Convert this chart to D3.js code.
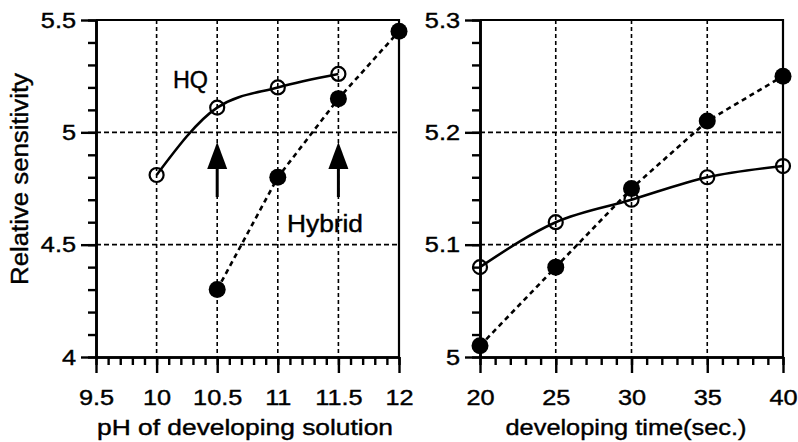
<!DOCTYPE html>
<html>
<head>
<meta charset="utf-8">
<script src="https://cdn.jsdelivr.net/npm/d3@7"></script>
<style>
  body { margin: 0; background: #fff; }
  svg text { font-family: "Liberation Sans", Arial, Helvetica, sans-serif; fill: #000; }
</style>
</head>
<body>
<div id="chart"></div>
<script>
"use strict";

// === DATA ===
// left panel: pH of developing solution
const phTicks = [9.5, 10, 10.5, 11, 11.5, 12];
const phYTicks = [4, 4.5, 5, 5.5];
const phHQ = [10, 10.5, 11, 11.5];
const phHQValues = [4.81, 5.11, 5.20, 5.26];
const phHybrid = [10.5, 11, 11.5, 12];
const phHybridValues = [4.30, 4.80, 5.15, 5.45];
const phArrows = [10.5, 11.5];

// right panel: developing time
const timeTicks = [20, 25, 30, 35, 40];
const timeYTicks = [5, 5.1, 5.2, 5.3];
const timeHQValues = [5.08, 5.12, 5.14, 5.16, 5.17];
const timeHybridValues = [5.01, 5.08, 5.15, 5.21, 5.25];

// === SVG SETUP ===
const svgWidth = 798, svgHeight = 442;
const plotTop = 20, plotBottom = 357;

const svg = d3.select("#chart")
  .append("svg")
  .attr("width", svgWidth)
  .attr("height", svgHeight);

// stretch text a bit, the original type is wide
function stretch(sel, factor) {
  sel.each(function () {
    const w = this.getComputedTextLength();
    if (w > 0) d3.select(this).attr("textLength", w * factor).attr("lengthAdjust", "spacingAndGlyphs");
  });
}

function drawPanel(o) {
  const x = d3.scaleLinear().domain(o.xDomain).range([o.left, o.right]);
  const y = d3.scaleLinear().domain(o.yDomain).range([plotBottom, plotTop]);
  const g = svg.append("g");

  // grid (dashed)
  g.append("g").selectAll("line")
    .data(o.xTicks.slice(1, -1))
    .enter().append("line")
    .attr("x1", d => x(d)).attr("x2", d => x(d))
    .attr("y1", plotTop).attr("y2", plotBottom)
    .attr("stroke", "#000").attr("stroke-width", 1.6)
    .attr("stroke-dasharray", "4,3");

  g.append("g").selectAll("line")
    .data(o.yTicks.slice(1, -1))
    .enter().append("line")
    .attr("x1", o.left).attr("x2", o.right)
    .attr("y1", d => y(d)).attr("y2", d => y(d))
    .attr("stroke", "#000").attr("stroke-width", 1.6)
    .attr("stroke-dasharray", "5,3");

  // frame top + right
  g.append("path")
    .attr("d", `M${o.left},${plotTop}H${o.right}V${plotBottom}`)
    .attr("fill", "none").attr("stroke", "#000").attr("stroke-width", 2.2);

  // minor + major tick marks, from the library axes
  const xMinor = d3.range(Math.round((o.xDomain[1] - o.xDomain[0]) / o.xMinor) + 1)
    .map(i => o.xDomain[0] + i * o.xMinor);
  const yMinor = d3.range(Math.round((o.yDomain[1] - o.yDomain[0]) / o.yMinor) + 1)
    .map(i => o.yDomain[0] + i * o.yMinor);

  const axX = g.append("g").attr("transform", `translate(0,${plotBottom})`);
  axX.append("g").call(d3.axisBottom(x).tickValues(xMinor).tickSize(8).tickSizeOuter(0).tickFormat(() => ""));
  axX.append("g").call(d3.axisBottom(x).tickValues(o.xTicks).tickSize(16).tickSizeOuter(0).tickPadding(16).tickFormat(o.xFormat));

  const axY = g.append("g").attr("transform", `translate(${o.left},0)`);
  axY.append("g").call(d3.axisLeft(y).tickValues(yMinor).tickSize(8).tickSizeOuter(0).tickFormat(() => ""));
  axY.append("g").call(d3.axisLeft(y).tickValues(o.yTicks).tickSize(15).tickSizeOuter(0).tickPadding(5).tickFormat(o.yFormat));

  g.selectAll(".domain").attr("stroke", "#000").attr("stroke-width", 2.6);
  g.selectAll(".tick line").attr("stroke", "#000").attr("stroke-width", 2.4);
  g.selectAll(".tick text")
    .attr("font-size", 22)
    .attr("fill", "#000")
    .attr("stroke", "#000").attr("stroke-width", 0.4)
    .attr("font-family", "'Liberation Sans', Arial, sans-serif");
  stretch(axX.selectAll(".tick text"), 1.15);
  stretch(axY.selectAll(".tick text"), 1.15);

  // series
  const hqLine = d3.line().x(d => x(d[0])).y(d => y(d[1])).curve(d3.curveMonotoneX);
  const hyLine = d3.line().x(d => x(d[0])).y(d => y(d[1]));

  const hq = d3.zip(o.hqX, o.hqY);
  const hy = d3.zip(o.hyX, o.hyY);

  g.append("path").datum(hy)
    .attr("d", hyLine)
    .attr("fill", "none").attr("stroke", "#000").attr("stroke-width", 2.6)
    .attr("stroke-dasharray", "5,4");

  g.append("path").datum(hq)
    .attr("d", hqLine)
    .attr("fill", "none").attr("stroke", "#000").attr("stroke-width", 2.6);

  g.append("g").selectAll("circle").data(hq).enter().append("circle")
    .attr("cx", d => x(d[0])).attr("cy", d => y(d[1]))
    .attr("r", 7).attr("fill", "none").attr("stroke", "#000").attr("stroke-width", 2.2);

  g.append("g").selectAll("circle").data(hy).enter().append("circle")
    .attr("cx", d => x(d[0])).attr("cy", d => y(d[1]))
    .attr("r", 8.5).attr("fill", "#000");

  // axis title
  g.append("text")
    .attr("x", o.titleX).attr("y", 435)
    .attr("text-anchor", "middle")
    .attr("font-size", 22)
    .attr("stroke", "#000").attr("stroke-width", 0.4)
    .attr("textLength", o.titleW).attr("lengthAdjust", "spacingAndGlyphs")
    .text(o.title);

  return { x, y, g };
}

// === LEFT PANEL ===
const leftPanel = drawPanel({
  left: 96, right: 399,
  xDomain: [9.5, 12], yDomain: [4, 5.5],
  xTicks: phTicks, yTicks: phYTicks,
  xMinor: 0.1, yMinor: 0.1,
  xFormat: d => d, yFormat: d => d,
  hqX: phHQ, hqY: phHQValues,
  hyX: phHybrid, hyY: phHybridValues,
  title: "pH of developing solution", titleX: 245, titleW: 296
});

// arrows
phArrows.forEach(v => {
  const ax = leftPanel.x(v);
  leftPanel.g.append("line")
    .attr("x1", ax).attr("x2", ax).attr("y1", 166).attr("y2", 197)
    .attr("stroke", "#000").attr("stroke-width", 3);
  leftPanel.g.append("path")
    .attr("d", `M${ax},142L${ax + 10},169L${ax - 10},169Z`)
    .attr("fill", "#000");
});

// series labels
leftPanel.g.append("text")
  .attr("x", 173).attr("y", 88)
  .attr("font-size", 23)
  .attr("stroke", "#000").attr("stroke-width", 0.4)
  .attr("textLength", 35).attr("lengthAdjust", "spacingAndGlyphs")
  .text("HQ");

leftPanel.g.append("text")
  .attr("x", 287).attr("y", 232)
  .attr("font-size", 23)
  .attr("stroke", "#000").attr("stroke-width", 0.4)
  .attr("textLength", 76).attr("lengthAdjust", "spacingAndGlyphs")
  .text("Hybrid");

// === RIGHT PANEL ===
drawPanel({
  left: 480, right: 783,
  xDomain: [20, 40], yDomain: [5, 5.3],
  xTicks: timeTicks, yTicks: timeYTicks,
  xMinor: 1, yMinor: 0.02,
  xFormat: d => d, yFormat: d => d,
  hqX: timeTicks, hqY: timeHQValues,
  hyX: timeTicks, hyY: timeHybridValues,
  title: "developing time(sec.)", titleX: 626, titleW: 241
});

// === Y AXIS TITLE ===
svg.append("text")
  .attr("transform", "translate(28,179) rotate(-90)")
  .attr("text-anchor", "middle")
  .attr("font-size", 23)
  .attr("stroke", "#000").attr("stroke-width", 0.4)
  .attr("textLength", 212).attr("lengthAdjust", "spacingAndGlyphs")
  .text("Relative sensitivity");
</script>
</body>
</html>
